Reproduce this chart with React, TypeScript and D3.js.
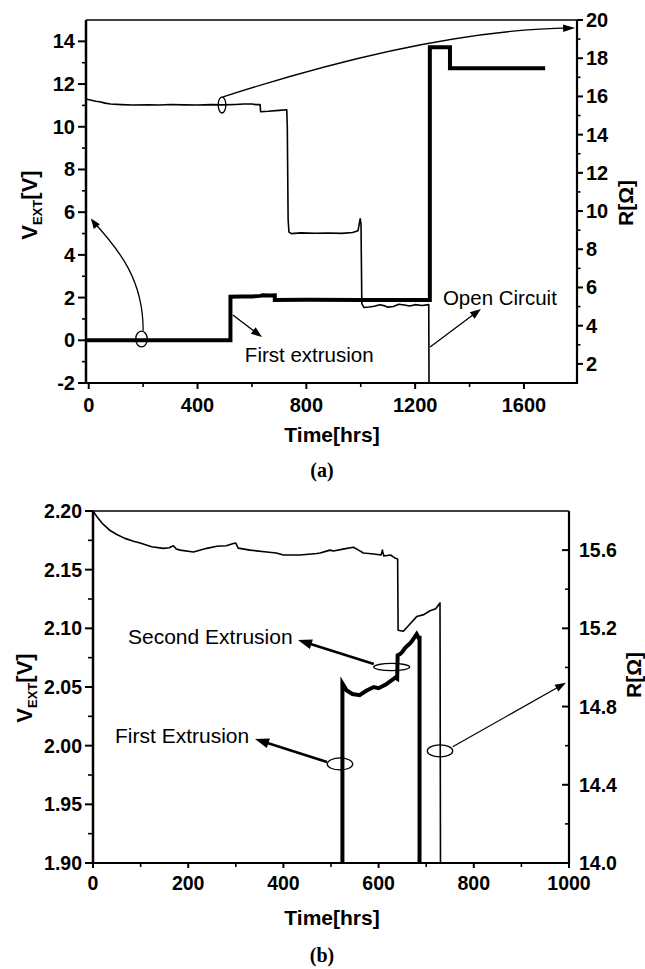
import React from 'react';
import * as d3 from 'd3';

// ---------- Panel (a) data ----------
const aTimeTicks = [0, 400, 800, 1200, 1600];
const aTimeMinor = [200, 600, 1000, 1400];
const aVTicks = [-2, 0, 2, 4, 6, 8, 10, 12, 14];
const aVMinor = [-1, 1, 3, 5, 7, 9, 11, 13];
const aRTicks = [2, 4, 6, 8, 10, 12, 14, 16, 18, 20];
const aRMinor = [3, 5, 7, 9, 11, 13, 15, 17, 19];

// V_EXT (thick, left axis) [time, volts]
const aVoltage: [number, number][] = [
  [-10, 0], [521, 0], [521, 2.04], [560, 2.05], [600, 2.05], [630, 2.08], [640, 2.11], [665, 2.1], [684, 2.11],
  [684, 1.89], [800, 1.9], [1000, 1.89], [1254, 1.89], [1254, 13.72], [1328, 13.72], [1328, 12.74], [1678, 12.74],
];

// R (thin, right axis) [time, ohms]
const aResistance: [number, number][] = [
  [-10, 15.87], [10, 15.8], [25, 15.75], [40, 15.72], [60, 15.65], [80, 15.6], [120, 15.57], [160, 15.55],
  [220, 15.56], [260, 15.55], [300, 15.58], [350, 15.56], [400, 15.55], [450, 15.57], [490, 15.56],
  [540, 15.58], [570, 15.6], [600, 15.6], [615, 15.57], [630, 15.58], [632, 15.2], [660, 15.22], [700, 15.27],
  [728, 15.3], [730, 14.4], [733, 9.6], [736, 8.9], [745, 8.82], [780, 8.86], [830, 8.84], [880, 8.85],
  [930, 8.83], [970, 8.88], [990, 8.97], [998, 9.6], [1001, 9.3], [1004, 5.15], [1012, 4.95], [1030, 4.98],
  [1050, 5.02], [1070, 5.1], [1085, 5.05], [1100, 4.97], [1120, 5.0], [1140, 5.12], [1160, 5.08],
  [1180, 5.03], [1200, 5.1], [1225, 5.06], [1250, 5.1], [1251, 1],
];

// ---------- Panel (b) data ----------
const bTimeTicks = [0, 200, 400, 600, 800, 1000];
const bTimeMinor = [100, 300, 500, 700, 900];
const bVTicks = [1.9, 1.95, 2.0, 2.05, 2.1, 2.15, 2.2];
const bVMinor = [1.925, 1.975, 2.025, 2.075, 2.125, 2.175];
const bRTicks = [14.0, 14.4, 14.8, 15.2, 15.6];
const bRMinor = [14.2, 14.6, 15.0, 15.4];

const bVoltage: [number, number][] = [
  [524, 1.9], [524, 2.053], [533, 2.047], [545, 2.044], [560, 2.043], [575, 2.047], [590, 2.05], [600, 2.049],
  [615, 2.052], [625, 2.055], [635, 2.058], [639, 2.057], [640, 2.077], [645, 2.078], [650, 2.08],
  [655, 2.083], [660, 2.085], [668, 2.088], [675, 2.092], [680, 2.095], [684, 2.092], [686, 2.092], [686, 1.9],
];

const bResistance: [number, number][] = [
  [0, 15.8], [10, 15.765], [20, 15.735], [36, 15.7], [50, 15.68], [67, 15.66], [85, 15.645], [99, 15.636],
  [123, 15.617], [148, 15.609], [160, 15.612], [169, 15.622], [175, 15.606], [183, 15.6], [211, 15.59],
  [239, 15.609], [260, 15.62], [280, 15.622], [295, 15.634], [300, 15.636], [305, 15.61], [330, 15.6],
  [365, 15.59], [385, 15.585], [400, 15.575], [435, 15.575], [470, 15.583], [477, 15.585], [498, 15.6],
  [505, 15.595], [525, 15.605], [547, 15.615], [558, 15.6], [568, 15.585], [590, 15.58], [605, 15.575],
  [608, 15.6], [611, 15.57], [625, 15.575], [634, 15.56], [640, 15.555], [641, 15.19], [652, 15.185],
  [665, 15.22], [680, 15.26], [695, 15.27], [708, 15.29], [720, 15.3], [729, 15.33], [730, 14.0],
];

const SANS = 'Liberation Sans, Arial, sans-serif';
const SERIF = 'Liberation Serif, Times New Roman, serif';

function arrowParts(x1: number, y1: number, x2: number, y2: number, len: number, hw: number) {
  const a = Math.atan2(y2 - y1, x2 - x1);
  const bx = x2 - len * Math.cos(a);
  const by = y2 - len * Math.sin(a);
  const px = -Math.sin(a) * hw;
  const py = Math.cos(a) * hw;
  return {
    line: [x1, y1, bx + len * 0.3 * Math.cos(a), by + len * 0.3 * Math.sin(a)],
    head: `${x2},${y2} ${bx + px},${by + py} ${bx - px},${by - py}`,
  };
}

function Arrow({ x1, y1, x2, y2, w = 1.3, len = 11, hw = 4 }: any) {
  const p = arrowParts(x1, y1, x2, y2, len, hw);
  return (
    <g>
      <line x1={p.line[0]} y1={p.line[1]} x2={p.line[2]} y2={p.line[3]} stroke="#000" strokeWidth={w} />
      <polygon points={p.head} fill="#000" />
    </g>
  );
}

export default function App() {
  // Panel (a) scales
  const ax = d3.scaleLinear().domain([-10, 1795]).range([86, 577]);
  const ayV = d3.scaleLinear().domain([-2, 15]).range([383, 20]);
  const ayR = d3.scaleLinear().domain([1, 20]).range([383, 20]);
  // Panel (b) scales
  const bx = d3.scaleLinear().domain([0, 1000]).range([93, 569]);
  const byV = d3.scaleLinear().domain([1.9, 2.2]).range([863, 511]);
  const byR = d3.scaleLinear().domain([14.0, 15.8]).range([863, 511]);

  const lineA_V = d3.line<[number, number]>().x(d => ax(d[0])).y(d => ayV(d[1]));
  const lineA_R = d3.line<[number, number]>().x(d => ax(d[0])).y(d => ayR(d[1]));
  const lineB_V = d3.line<[number, number]>().x(d => bx(d[0])).y(d => byV(d[1]));
  const lineB_R = d3.line<[number, number]>().x(d => bx(d[0])).y(d => byR(d[1]));

  const [aL, aR] = ax.range();
  const [aB, aT] = ayV.range();
  const [bL, bRr] = bx.range();
  const [bB, bT] = byV.range();

  // annotation anchors (data units)
  const aEll1 = { x: ax(194), y: ayV(0.06) };
  const aEll2 = { x: ax(490), y: ayV(11.02) };
  const curve1 = `M${ax(200)},${ayV(0.45)} C${ax(201)},${ayV(2.8)} ${ax(115)},${ayV(4.2)} ${ax(14)},${ayV(5.6)}`;
  const curve2 = `M${ax(494)},${ayV(11.4)} Q${ax(1255)},${ayV(14.53)} ${ax(1770)},${ayV(14.63)}`;

  return (
    <svg width={645} height={969} style={{ position: 'absolute', left: 0, top: 0, background: '#fff' }}
      fontFamily={SANS}>
      <rect x={0} y={0} width={645} height={969} fill="#fff" />

      {/* ================= Panel (a) ================= */}
      <g>
        {/* data lines */}
        <path d={lineA_R(aResistance) || ''} fill="none" stroke="#000" strokeWidth={1.6} strokeLinejoin="round" />
        <path d={lineA_V(aVoltage) || ''} fill="none" stroke="#000" strokeWidth={4} strokeLinejoin="miter" />

        {/* frame */}
        <line x1={aL} y1={aT} x2={aR} y2={aT} stroke="#000" strokeWidth={1.3} />
        <line x1={aL} y1={aT} x2={aL} y2={aB + 1} stroke="#000" strokeWidth={2.5} />
        <line x1={aR} y1={aT} x2={aR} y2={aB + 1} stroke="#000" strokeWidth={2.2} />
        <line x1={aL - 1} y1={aB} x2={aR + 1} y2={aB} stroke="#000" strokeWidth={2.2} />

        {/* left ticks */}
        {aVTicks.map(v => (
          <g key={'avt' + v}>
            <line x1={aL - 8} x2={aL} y1={ayV(v)} y2={ayV(v)} stroke="#000" strokeWidth={2} />
            <text x={aL - 11} y={ayV(v) + 7} textAnchor="end" fontSize={20} fontWeight="bold">{v}</text>
          </g>
        ))}
        {aVMinor.map(v => (
          <line key={'avm' + v} x1={aL - 4} x2={aL} y1={ayV(v)} y2={ayV(v)} stroke="#000" strokeWidth={1.6} />
        ))}
        {/* right ticks */}
        {aRTicks.map(v => (
          <g key={'art' + v}>
            <line x1={aR} x2={aR + 6} y1={ayR(v)} y2={ayR(v)} stroke="#000" strokeWidth={2} />
            <text x={aR + 9} y={ayR(v) + 7} textAnchor="start" fontSize={20} fontWeight="bold">{v}</text>
          </g>
        ))}
        {aRMinor.map(v => (
          <line key={'arm' + v} x1={aR} x2={aR + 3.5} y1={ayR(v)} y2={ayR(v)} stroke="#000" strokeWidth={1.6} />
        ))}
        {/* bottom ticks */}
        {aTimeTicks.map(v => (
          <g key={'att' + v}>
            <line x1={ax(v)} x2={ax(v)} y1={aB} y2={aB + 6} stroke="#000" strokeWidth={2} />
            <text x={ax(v)} y={aB + 29} textAnchor="middle" fontSize={20} fontWeight="bold">{v}</text>
          </g>
        ))}
        {aTimeMinor.map(v => (
          <line key={'atm' + v} x1={ax(v)} x2={ax(v)} y1={aB} y2={aB + 4} stroke="#000" strokeWidth={1.6} />
        ))}

        {/* axis titles */}
        <text x={332} y={442} textAnchor="middle" fontSize={21} fontWeight="bold">Time[hrs]</text>
        <text transform="translate(37,205) rotate(-90)" textAnchor="middle" fontSize={22} fontWeight="bold">
          <tspan>V</tspan><tspan fontSize={13} dy={5}>EXT</tspan><tspan dy={-5}>[V]</tspan>
        </text>
        <text transform="translate(633,203) rotate(-90)" textAnchor="middle" fontSize={21} fontWeight="bold">R[Ω]</text>
        <text x={322} y={477} textAnchor="middle" fontSize={20} fontWeight="bold" fontFamily={SERIF}>(a)</text>

        {/* annotations */}
        <ellipse cx={aEll1.x} cy={aEll1.y} rx={5.8} ry={7.8} fill="none" stroke="#000" strokeWidth={1.3} />
        <path d={curve1} fill="none" stroke="#000" strokeWidth={1.3} />
        <polygon points={arrowParts(ax(40), ayV(5.15), ax(8), ayV(5.7), 10, 3.8).head} fill="#000" />
        <ellipse cx={aEll2.x} cy={aEll2.y} rx={3.8} ry={8} fill="none" stroke="#000" strokeWidth={1.3} />
        <path d={curve2} fill="none" stroke="#000" strokeWidth={1.3} />
        <polygon points={arrowParts(ax(1700), ayV(14.6), ax(1788), ayV(14.63), 12, 3.8).head} fill="#000" />

        <Arrow x1={ax(530)} y1={ayV(1.18)} x2={ax(637)} y2={ayV(0.15)} w={1.3} len={11} hw={4} />
        <text x={ax(574)} y={ayV(-1.02)} fontSize={20.5}>First extrusion</text>
        <Arrow x1={ax(1255)} y1={ayV(-0.31)} x2={ax(1442)} y2={ayV(1.47)} w={1.3} len={11} hw={4} />
        <text x={ax(1302)} y={ayV(1.65)} fontSize={20.5}>Open Circuit</text>
      </g>

      {/* ================= Panel (b) ================= */}
      <g>
        <path d={lineB_R(bResistance) || ''} fill="none" stroke="#000" strokeWidth={1.6} strokeLinejoin="round" />
        <path d={lineB_V(bVoltage) || ''} fill="none" stroke="#000" strokeWidth={4} strokeLinejoin="miter" />

        <line x1={bL} y1={bT} x2={bRr} y2={bT} stroke="#000" strokeWidth={1.3} />
        <line x1={bL} y1={bT} x2={bL} y2={bB + 1} stroke="#000" strokeWidth={2.5} />
        <line x1={bRr} y1={bT} x2={bRr} y2={bB + 1} stroke="#000" strokeWidth={2.2} />
        <line x1={bL - 1} y1={bB} x2={bRr + 1} y2={bB} stroke="#000" strokeWidth={2.2} />

        {bVTicks.map(v => (
          <g key={'bvt' + v}>
            <line x1={bL - 8} x2={bL} y1={byV(v)} y2={byV(v)} stroke="#000" strokeWidth={2} />
            <text x={bL - 11} y={byV(v) + 7} textAnchor="end" fontSize={19.5} fontWeight="bold">{v.toFixed(2)}</text>
          </g>
        ))}
        {bVMinor.map(v => (
          <line key={'bvm' + v} x1={bL - 5} x2={bL} y1={byV(v)} y2={byV(v)} stroke="#000" strokeWidth={1.6} />
        ))}
        {bRTicks.map(v => (
          <g key={'brt' + v}>
            <line x1={bRr - 7} x2={bRr} y1={byR(v)} y2={byR(v)} stroke="#000" strokeWidth={2} />
            <text x={bRr + 10} y={byR(v) + 7} textAnchor="start" fontSize={19.5} fontWeight="bold">{v.toFixed(1)}</text>
          </g>
        ))}
        {bRMinor.map(v => (
          <line key={'brm' + v} x1={bRr - 4} x2={bRr} y1={byR(v)} y2={byR(v)} stroke="#000" strokeWidth={1.6} />
        ))}
        {bTimeTicks.map(v => (
          <g key={'btt' + v}>
            <line x1={bx(v)} x2={bx(v)} y1={bB} y2={bB + 5} stroke="#000" strokeWidth={2} />
            <text x={bx(v)} y={bB + 27} textAnchor="middle" fontSize={19.5} fontWeight="bold">{v}</text>
          </g>
        ))}
        {bTimeMinor.map(v => (
          <line key={'btm' + v} x1={bx(v)} x2={bx(v)} y1={bB} y2={bB + 4} stroke="#000" strokeWidth={1.6} />
        ))}

        <text x={332} y={925} textAnchor="middle" fontSize={21} fontWeight="bold">Time[hrs]</text>
        <text transform="translate(32,688) rotate(-90)" textAnchor="middle" fontSize={22} fontWeight="bold">
          <tspan>V</tspan><tspan fontSize={13} dy={5}>EXT</tspan><tspan dy={-5}>[V]</tspan>
        </text>
        <text transform="translate(641,675) rotate(-90)" textAnchor="middle" fontSize={21} fontWeight="bold">R[Ω]</text>
        <text x={322} y={962} textAnchor="middle" fontSize={20} fontWeight="bold" fontFamily={SERIF}>(b)</text>

        {/* annotations */}
        <ellipse cx={bx(627.5)} cy={byV(2.067)} rx={18} ry={3.6} fill="none" stroke="#000" strokeWidth={1.3} />
        <Arrow x1={bx(590)} y1={byV(2.0696)} x2={bx(430.7)} y2={byV(2.090)} w={2.6} len={14} hw={5} />
        <text x={bx(73.5)} y={byV(2.0867)} fontSize={21}>Second Extrusion</text>

        <ellipse cx={bx(518.9)} cy={byV(1.9844)} rx={12.7} ry={6} fill="none" stroke="#000" strokeWidth={1.3} />
        <Arrow x1={bx(491.6)} y1={byV(1.986)} x2={bx(340.3)} y2={byV(2.0057)} w={2.6} len={14} hw={5} />
        <text x={bx(46.2)} y={byV(2.0023)} fontSize={21}>First Extrusion</text>

        <ellipse cx={bx(729)} cy={byV(1.9955)} rx={12.7} ry={6} fill="none" stroke="#000" strokeWidth={1.3} />
        <Arrow x1={bx(755.7)} y1={byV(1.9991)} x2={bx(993.7)} y2={byV(2.0537)} w={1.2} len={11} hw={3.8} />
      </g>
    </svg>
  );
}
